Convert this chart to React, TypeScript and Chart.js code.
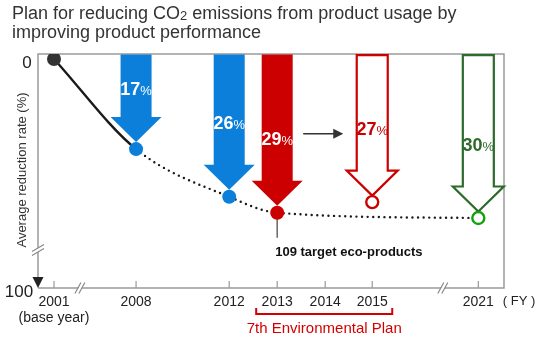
import React, { useEffect, useRef } from 'react';
import { Chart, registerables } from 'chart.js';

Chart.register(...registerables);

// ---- data ----
const yearLabels = ['2001', '2008', '2012', '2013', '2014', '2015', '2021'];
// horizontal position of each fiscal year on the (broken) time axis
const yearAxisPos = [0, 1.71, 3.65, 4.65, 5.65, 6.63, 8.84];

// average reduction rate trend (%)
const trendYears = ['2001', '2008', '2012', '2013', '2021'];
const trendValues = [0, 17, 26, 29, 30];

// arrows: results and targets (%)
const arrowYears = ['2008', '2012', '2013', '2015', '2021'];
const arrowValues = [17, 26, 29, 27, 30];
const arrowKinds = ['actual', 'actual', 'actual', 'target', 'target'];
const arrowColors = ['#0b7fd9', '#0b7fd9', '#cc0000', '#cc0000', '#2c6b2b'];
const markerRing = ['#0b7fd9', '#0b7fd9', '#cc0000', '#cc0000', '#12a012'];

const yTickLabels = ['0', '100'];
const titleLines = ['Plan for reducing CO', '2', ' emissions from product usage by', 'improving product performance'];
const yAxisTitle = 'Average reduction rate (%)';
const baseYearNote = '(base year)';
const fyNote = '( FY )';
const planLabel = '7th Environmental Plan';
const planYears = ['2013', '2015'];
const calloutYear = '2013';
const calloutText = '109 target eco-products';

const FONT = '"Liberation Sans", Arial, sans-serif';
const pos = (yr: string) => yearAxisPos[yearLabels.indexOf(yr)];

const decor = {
  id: 'decor',
  beforeDatasetsDraw(chart: any) {
    const { ctx, chartArea: a, scales } = chart;
    const x = scales.x, y = scales.y;
    ctx.save();
    // frame
    ctx.strokeStyle = '#9a9a9a';
    ctx.lineWidth = 1.5;
    ctx.beginPath();
    ctx.moveTo(a.left, a.bottom - 10);
    ctx.lineTo(a.left, a.top);
    ctx.lineTo(a.right, a.top);
    ctx.lineTo(a.right, a.bottom);
    ctx.lineTo(a.left, a.bottom);
    ctx.stroke();
    // y axis arrow head
    ctx.fillStyle = '#222';
    ctx.beginPath();
    ctx.moveTo(a.left - 5.5, a.bottom - 11);
    ctx.lineTo(a.left + 5.5, a.bottom - 11);
    ctx.lineTo(a.left, a.bottom);
    ctx.closePath();
    ctx.fill();
    // tick marks
    ctx.strokeStyle = '#9a9a9a';
    ctx.lineWidth = 1.2;
    yearLabels.forEach((yr) => {
      const px = x.getPixelForValue(pos(yr));
      ctx.beginPath();
      ctx.moveTo(px, a.bottom);
      ctx.lineTo(px, a.bottom - 7);
      ctx.stroke();
    });
    // x axis breaks
    const drawXBreak = (cx: number, cy: number) => {
      ctx.save();
      ctx.translate(cx, cy);
      ctx.fillStyle = '#fff';
      ctx.beginPath();
      ctx.moveTo(-4.5, 5);
      ctx.lineTo(1.5, -5);
      ctx.lineTo(4.5, -5);
      ctx.lineTo(-1.5, 5);
      ctx.closePath();
      ctx.fill();
      ctx.strokeStyle = '#8a8a8a';
      ctx.lineWidth = 1.2;
      ctx.beginPath();
      ctx.moveTo(-5, 5.5); ctx.lineTo(1, -5.5);
      ctx.moveTo(-1, 5.5); ctx.lineTo(5, -5.5);
      ctx.stroke();
      ctx.restore();
    };
    drawXBreak(x.getPixelForValue(0.54), a.bottom);
    drawXBreak(x.getPixelForValue(8.1), a.bottom);
    // y axis break
    {
      const cx = a.left, cy = a.bottom - 38;
      ctx.fillStyle = '#fff';
      ctx.beginPath();
      ctx.moveTo(cx - 5, cy + 1);
      ctx.lineTo(cx + 5, cy - 5);
      ctx.lineTo(cx + 5, cy - 1);
      ctx.lineTo(cx - 5, cy + 5);
      ctx.closePath();
      ctx.fill();
      ctx.strokeStyle = '#8a8a8a';
      ctx.lineWidth = 1.2;
      ctx.beginPath();
      ctx.moveTo(cx - 6, cy + 1.5); ctx.lineTo(cx + 6, cy - 5.5);
      ctx.moveTo(cx - 6, cy + 5.5); ctx.lineTo(cx + 6, cy - 1.5);
      ctx.stroke();
    }

    // arrows
    const labelYs: number[] = [];
    arrowYears.forEach((yr, i) => {
      const cx = x.getPixelForValue(pos(yr));
      const actual = arrowKinds[i] === 'actual';
      const r = actual ? 7 : 6.5;
      const tip = y.getPixelForValue(arrowValues[i]) - r;
      const top = a.top + (actual ? 0.5 : 1.2);
      const sw = 15.5, hw = 25.5, hh = 25;
      const hs = tip - hh;
      ctx.beginPath();
      ctx.moveTo(cx - sw, top);
      ctx.lineTo(cx + sw, top);
      ctx.lineTo(cx + sw, hs);
      ctx.lineTo(cx + hw, hs);
      ctx.lineTo(cx, tip);
      ctx.lineTo(cx - hw, hs);
      ctx.lineTo(cx - sw, hs);
      ctx.closePath();
      if (actual) {
        ctx.fillStyle = arrowColors[i];
        ctx.fill();
      } else {
        ctx.fillStyle = '#fff';
        ctx.fill();
        ctx.strokeStyle = arrowColors[i];
        ctx.lineWidth = 2.2;
        ctx.lineJoin = 'miter';
        ctx.stroke();
      }
      // label
      const ly = Math.max(a.top + 34, hs - 42);
      labelYs.push(ly);
      const num = String(arrowValues[i]);
      ctx.font = `bold 18px ${FONT}`;
      const wn = ctx.measureText(num).width;
      ctx.font = `13px ${FONT}`;
      const wp = ctx.measureText('%').width;
      const sx = cx - (wn + wp) / 2;
      ctx.fillStyle = actual ? '#fff' : arrowColors[i];
      ctx.textBaseline = 'alphabetic';
      ctx.textAlign = 'left';
      ctx.font = `bold 18px ${FONT}`;
      ctx.fillText(num, sx, ly + 6.5);
      ctx.font = `13px ${FONT}`;
      ctx.fillText('%', sx + wn, ly + 6.5);
    });
    // "→" between the 2013 result and the 2015 target
    const i13 = arrowYears.indexOf('2013');
    const i15 = arrowYears.indexOf('2015');
    const x0 = x.getPixelForValue(pos('2013')) + 26;
    const x1 = x.getPixelForValue(pos('2015')) - 29;
    const ay = (labelYs[i13] + labelYs[i15]) / 2;
    ctx.strokeStyle = '#333';
    ctx.fillStyle = '#333';
    ctx.lineWidth = 1.5;
    ctx.beginPath();
    ctx.moveTo(x0, ay);
    ctx.lineTo(x1 - 8, ay);
    ctx.stroke();
    ctx.beginPath();
    ctx.moveTo(x1, ay);
    ctx.lineTo(x1 - 10, ay - 5);
    ctx.lineTo(x1 - 10, ay + 5);
    ctx.closePath();
    ctx.fill();

    // callout line
    const cx = x.getPixelForValue(pos(calloutYear));
    const cy = y.getPixelForValue(trendValues[trendYears.indexOf(calloutYear)]);
    ctx.strokeStyle = '#666';
    ctx.lineWidth = 1.5;
    ctx.beginPath();
    ctx.moveTo(cx, cy);
    ctx.lineTo(cx, cy + 25);
    ctx.stroke();
    ctx.restore();
  },
  afterDraw(chart: any) {
    const { ctx, chartArea: a, scales } = chart;
    const x = scales.x;
    ctx.save();
    // title
    ctx.fillStyle = '#333';
    ctx.textAlign = 'left';
    ctx.textBaseline = 'alphabetic';
    let tx = 12;
    ctx.font = `18px ${FONT}`;
    ctx.fillText(titleLines[0], tx, 19);
    tx += ctx.measureText(titleLines[0]).width;
    ctx.font = `13px ${FONT}`;
    ctx.fillText(titleLines[1], tx, 19.5);
    tx += ctx.measureText(titleLines[1]).width;
    ctx.font = `18px ${FONT}`;
    ctx.fillText(titleLines[2], tx, 19);
    ctx.fillText(titleLines[3], 12, 38);

    // y axis labels
    ctx.fillStyle = '#222';
    ctx.textAlign = 'center';
    ctx.textBaseline = 'middle';
    ctx.font = `17px ${FONT}`;
    ctx.fillText(yTickLabels[0], 27, a.top + 9);
    ctx.fillText(yTickLabels[1], 19, a.bottom + 4);
    ctx.save();
    ctx.translate(22, 170);
    ctx.rotate(-Math.PI / 2);
    ctx.fillStyle = '#333';
    ctx.font = `13px ${FONT}`;
    ctx.fillText(yAxisTitle, 0, 0);
    ctx.restore();

    // x axis labels
    ctx.fillStyle = '#222';
    ctx.font = `14px ${FONT}`;
    yearLabels.forEach((yr) => {
      ctx.fillText(yr, x.getPixelForValue(pos(yr)), a.bottom + 14);
    });
    ctx.fillText(baseYearNote, x.getPixelForValue(pos('2001')), a.bottom + 30);
    ctx.font = `13px ${FONT}`;
    ctx.fillText(fyNote, a.right + 15, a.bottom + 13);

    // 7th Environmental Plan bracket
    const bx0 = x.getPixelForValue(pos(planYears[0])) - 21;
    const bx1 = x.getPixelForValue(pos(planYears[1])) + 20;
    const by = a.bottom + 26;
    ctx.strokeStyle = '#d40000';
    ctx.lineWidth = 2;
    ctx.beginPath();
    ctx.moveTo(bx0, by - 6);
    ctx.lineTo(bx0, by);
    ctx.lineTo(bx1, by);
    ctx.lineTo(bx1, by - 6);
    ctx.stroke();
    ctx.fillStyle = '#d40000';
    ctx.font = `15px ${FONT}`;
    ctx.fillText(planLabel, (bx0 + bx1) / 2, a.bottom + 41);

    // callout text
    const cx = x.getPixelForValue(pos(calloutYear));
    ctx.fillStyle = '#111';
    ctx.textAlign = 'left';
    ctx.font = `bold 13px ${FONT}`;
    ctx.fillText(calloutText, cx - 2, a.bottom - 36);
    ctx.restore();
  },
};

export default function App() {
  const ref = useRef<HTMLCanvasElement | null>(null);
  useEffect(() => {
    document.body.style.margin = '0';
    const canvas = ref.current;
    if (!canvas) return;
    const markerYears = ['2001', ...arrowYears];
    const markerValues = [0, ...arrowValues];
    const markerFill = ['#333', ...arrowKinds.map((k, i) => (k === 'actual' ? markerRing[i] : '#fff'))];
    const markerBorder = ['#333', ...markerRing];
    const markerBorderW = [0, ...arrowKinds.map((k) => (k === 'actual' ? 0 : 2.4))];
    const markerR = [7, ...arrowKinds.map((k) => (k === 'actual' ? 7 : 6))];
    const chart = new Chart(canvas, {
      type: 'line',
      data: {
        datasets: [
          {
            label: 'markers',
            data: markerYears.map((yr, i) => ({ x: pos(yr), y: markerValues[i] })),
            showLine: false,
            pointRadius: markerR,
            pointBackgroundColor: markerFill,
            pointBorderColor: markerBorder,
            pointBorderWidth: markerBorderW,
            order: 0,
          },
          {
            label: 'trend',
            data: trendYears.map((yr, i) => ({ x: pos(yr), y: trendValues[i] })),
            borderColor: '#1a1a1a',
            borderWidth: 2.4,
            borderCapStyle: 'round',
            pointRadius: 0,
            cubicInterpolationMode: 'monotone',
            segment: {
              borderDash: (c: any) => (c.p0DataIndex === 0 ? [] : [0, 5.6]),
            },
            order: 1,
          },
        ],
      },
      options: {
        responsive: true,
        maintainAspectRatio: false,
        animation: false,
        layout: { padding: { left: 38, top: 54, right: 36, bottom: 53 } },
        scales: {
          x: { type: 'linear', display: false, min: -0.333, max: 9.375 },
          y: { type: 'linear', display: false, reverse: true, min: -0.94, max: 43.2 },
        },
        plugins: { legend: { display: false }, tooltip: { enabled: false }, title: { display: false } },
      },
      plugins: [decor],
    } as any);
    return () => chart.destroy();
  }, []);
  return (
    <div style={{ position: 'relative', width: 540, height: 341 }}>
      <canvas ref={ref} />
    </div>
  );
}
